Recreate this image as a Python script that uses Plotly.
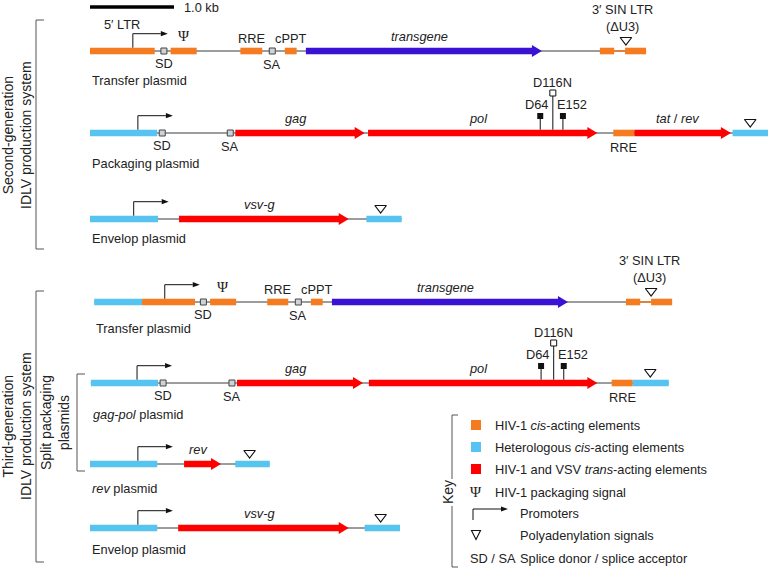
import plotly.graph_objects as go

# ---------------- data (positions in kb along each plasmid) ----------------
SCALE_KB = 1.0

# block tuples: (start_kb, end_kb, label, label_side)
tr2_cis = [(0.00, 0.77, "5′ LTR", "high"), (0.96, 1.27, "Ψ", "psi"), (1.79, 2.05, "RRE", "above"),
           (2.32, 2.46, "cPPT", "above"), (6.07, 6.24, "", ""), (6.37, 6.62, "", "")]
tr2_het = []
tr2_genes = [("transgene", 2.57, 5.38, "transgene")]
tr2_sd, tr2_sa = [0.88], [2.17]
tr2_prom, tr2_polya = [0.51], [6.38]
tr2_mut = []

pk2_cis = [(6.23, 6.48, "RRE", "below")]
pk2_het = [(0.00, 0.80), (7.65, 8.20)]
pk2_genes = [("trans", 1.73, 3.27, "gag"), ("trans", 3.31, 6.04, "pol"), ("trans", 6.48, 7.63, "tat / rev")]
pk2_sd, pk2_sa = [0.86], [1.67]
pk2_prom, pk2_polya = [0.57], [7.86]
pk2_mut = [5.36, 5.51, 5.63]  # D64, D116N, E152

en2_cis = []
en2_het = [(0.00, 0.81), (3.29, 3.71)]
en2_genes = [("trans", 1.06, 3.08, "vsv-g")]
en2_sd, en2_sa = [], []
en2_prom, en2_polya = [0.52], [3.46]
en2_mut = []

tr3_cis = [(0.62, 1.25, "", ""), (1.43, 1.74, "Ψ", "psi"), (2.11, 2.36, "RRE", "above"),
           (2.63, 2.77, "cPPT", "above"), (6.38, 6.55, "", ""), (6.68, 6.93, "", "")]
tr3_het = [(0.05, 0.62)]
tr3_genes = [("transgene", 2.88, 5.69, "transgene")]
tr3_sd, tr3_sa = [1.35], [2.48]
tr3_prom, tr3_polya = [0.89], [6.68]
tr3_mut = []

gp3_cis = [(6.21, 6.46, "RRE", "below")]
gp3_het = [(0.01, 0.81), (6.46, 6.89)]
gp3_genes = [("trans", 1.75, 3.25, "gag"), ("trans", 3.32, 6.04, "pol")]
gp3_sd, gp3_sa = [0.87], [1.69]
gp3_prom, gp3_polya = [0.56], [6.67]
gp3_mut = [5.37, 5.52, 5.64]

rv3_cis = []
rv3_het = [(0.00, 0.80), (1.73, 2.14)]
rv3_genes = [("trans", 1.12, 1.56, "rev")]
rv3_sd, rv3_sa = [], []
rv3_prom, rv3_polya = [0.57], [1.90]
rv3_mut = []

en3_cis = []
en3_het = [(0.00, 0.80), (3.27, 3.69)]
en3_genes = [("trans", 1.05, 3.08, "vsv-g")]
en3_sd, en3_sa = [], []
en3_prom, en3_polya = [0.57], [3.46]
en3_mut = []

plasmid_names = ["Transfer plasmid", "Packaging plasmid", "Envelop plasmid", "Transfer plasmid",
                 "<i>gag-pol</i> plasmid", "<i>rev</i> plasmid", "Envelop plasmid"]
mutation_names = ["D64", "D116N", "E152"]
key_items = ["HIV-1 <i>cis</i>-acting elements", "Heterologous <i>cis</i>-acting elements",
             "HIV-1 and VSV <i>trans</i>-acting elements", "HIV-1 packaging signal",
             "Promoters", "Polyadenylation signals", "Splice donor / splice acceptor"]

# ---------------- layout / style ----------------
ORANGE, CYAN, RED, BLUE, INK = "#F47B20", "#56C3F0", "#FF0000", "#3A12D6", "#222222"
GENE_COLOR = {"trans": RED, "transgene": BLUE}
FONT = "Liberation Sans, Arial, sans-serif"
FS = 12.8
FS_SIDE = 14
PX_PER_KB = 84.0
X0_PX = 90.0
ROW_Y = [51, 133, 219, 302, 383, 464, 528]
NAME_DY = [29, 30, 19, 26, 31, 24, 21]
BAR, HEAD_H, HEAD_L = 3.3, 6.0, 10 / PX_PER_KB

rows = [
    (tr2_cis, tr2_het, tr2_genes, tr2_sd, tr2_sa, tr2_prom, tr2_polya, tr2_mut, True),
    (pk2_cis, pk2_het, pk2_genes, pk2_sd, pk2_sa, pk2_prom, pk2_polya, pk2_mut, False),
    (en2_cis, en2_het, en2_genes, en2_sd, en2_sa, en2_prom, en2_polya, en2_mut, False),
    (tr3_cis, tr3_het, tr3_genes, tr3_sd, tr3_sa, tr3_prom, tr3_polya, tr3_mut, True),
    (gp3_cis, gp3_het, gp3_genes, gp3_sd, gp3_sa, gp3_prom, gp3_polya, gp3_mut, False),
    (rv3_cis, rv3_het, rv3_genes, rv3_sd, rv3_sa, rv3_prom, rv3_polya, rv3_mut, False),
    (en3_cis, en3_het, en3_genes, en3_sd, en3_sa, en3_prom, en3_polya, en3_mut, False),
]

shapes, ann = [], []
fig = go.Figure()


def P(px):
    return px / 768.0


def text(x, y, t, xref="x", size=FS, xanchor="center", angle=0, font=FONT, yanchor="middle"):
    ann.append(dict(x=x, y=y, xref=xref, yref="y", text=t, showarrow=False, textangle=angle,
                    xanchor=xanchor, yanchor=yanchor, font=dict(family=font, size=size, color=INK)))


def line(x0, y0, x1, y1, xref="x", color="#333333", width=1):
    shapes.append(dict(type="line", xref=xref, yref="y", x0=x0, x1=x1, y0=y0, y1=y1,
                       line=dict(color=color, width=width), layer="below"))


def rect(s, e, y, c):
    shapes.append(dict(type="rect", xref="x", yref="y", x0=s, x1=e, y0=y - BAR, y1=y + BAR,
                       fillcolor=c, line_width=0, layer="below"))


def arrow(s, e, y, c):
    h = HEAD_L
    path = (f"M{s},{y-BAR} L{e-h},{y-BAR} L{e-h},{y-HEAD_H} L{e},{y} L{e-h},{y+HEAD_H} "
            f"L{e-h},{y+BAR} L{s},{y+BAR} Z")
    shapes.append(dict(type="path", xref="x", yref="y", path=path, fillcolor=c, line_width=0, layer="below"))


def promoter(x, y, xref="x", unit=1 / PX_PER_KB, rise=14):
    top = y - rise
    L, aw = 35 * unit, 7 * unit
    line(x, y, x, top, xref=xref, color="#111111")
    line(x, top, x + L - aw, top, xref=xref, color="#111111")
    path = f"M{x+L-aw},{top-2.6} L{x+L},{top} L{x+L-aw},{top+2.6} Z"
    shapes.append(dict(type="path", xref=xref, yref="y", path=path, fillcolor="#111111", line_width=0,
                       layer="below"))


sd_x, sd_y, pa_x, pa_y, mf_x, mf_y, mo_x, mo_y = [], [], [], [], [], [], [], []

for i, (cis, het, genes, sd, sa, prom, polya, mut, is_transfer) in enumerate(rows):
    y = ROW_Y[i]
    starts = [b[0] for b in cis] + [b[0] for b in het] + [g[1] for g in genes]
    ends = [b[1] for b in cis] + [b[1] for b in het] + [g[2] for g in genes]
    s0, s1 = min(starts), max(ends)
    line(s0, y, s1, y, color="#3a3a3a", width=1)
    if is_transfer:
        line(cis[-2][1], y, cis[-1][0], y, color=ORANGE, width=1.5)
        mid = (cis[-2][0] + cis[-1][1]) / 2
        text(mid, y - 33, "3′ SIN LTR<br>(ΔU3)")
    for (s, e) in het:
        rect(s, e, y, CYAN)
    for (s, e, lab, side) in cis:
        rect(s, e, y, ORANGE)
        mid = (s + e) / 2
        if side == "above":
            text(mid, y - 13, lab)
        elif side == "below":
            text(mid, y + 14, lab)
        elif side == "high":
            text(mid, y - 27, lab)
        elif side == "psi":
            text(mid, y - 15, lab, size=15, font="Liberation Serif, Times New Roman, serif")
    for (kind, s, e, lab) in genes:
        arrow(s, e, y, GENE_COLOR[kind])
        lab_html = " / ".join(f"<i>{p}</i>" for p in lab.split(" / "))
        text((s + e) / 2 - 0.05, y - 15, lab_html)
    for x in sd:
        sd_x.append(x); sd_y.append(y)
        text(x, y + 12, "SD")
    for x in sa:
        sd_x.append(x); sd_y.append(y)
        text(x, y + 13, "SA")
    for x in prom:
        promoter(x, y - BAR)
    for x in polya:
        pa_x.append(x); pa_y.append(y - 11)
    if mut:
        d64, d116, e152 = mut
        line(d64, y - BAR, d64, y - 16, color="#111111")
        line(e152, y - BAR, e152, y - 16, color="#111111")
        line(d116, y - BAR, d116, y - 40, color="#111111")
        mf_x += [d64, e152]; mf_y += [y - 17, y - 17]
        mo_x.append(d116); mo_y.append(y - 40)
        text(d116, y - 51, mutation_names[1])
        text(d116 - 0.03, y - 29, mutation_names[0], xanchor="right")
        text(d116 + 0.03, y - 29, mutation_names[2], xanchor="left")
    text(s0, y + NAME_DY[i], plasmid_names[i], xanchor="left")

fig.add_trace(go.Scatter(x=sd_x, y=sd_y, mode="markers", hoverinfo="skip",
                         marker=dict(symbol="square", size=6, color="#cfd3d6", line=dict(color="#444", width=1))))
fig.add_trace(go.Scatter(x=pa_x, y=pa_y, mode="markers", hoverinfo="skip",
                         marker=dict(symbol="triangle-down-open", size=10, color="#111", line=dict(width=1.2))))
fig.add_trace(go.Scatter(x=mf_x, y=mf_y, mode="markers", hoverinfo="skip",
                         marker=dict(symbol="square", size=6, color="#111")))
fig.add_trace(go.Scatter(x=mo_x, y=mo_y, mode="markers", hoverinfo="skip",
                         marker=dict(symbol="square", size=6, color="white", line=dict(color="#111", width=1))))

# scale bar
line(0, 7, SCALE_KB, 7, color="#000", width=3.5)
text(SCALE_KB + 0.1, 7, f"{SCALE_KB:.1f} kb", xanchor="left")

# brackets
BR = "#555555"
for (xb, y0, y1, tick) in [(36, 20, 249, 8), (36, 291, 562, 8), (77, 374, 471, 8)]:
    line(P(xb), y0, P(xb), y1, xref="paper", color=BR)
    line(P(xb), y0, P(xb + tick), y0, xref="paper", color=BR)
    line(P(xb), y1, P(xb + tick), y1, xref="paper", color=BR)
text(P(17), 135, "Second-generation<br>IDLV production system", xref="paper", angle=-90, size=FS_SIDE)
text(P(17), 426, "Third-generation<br>IDLV production system", xref="paper", angle=-90, size=FS_SIDE)
text(P(55), 423, "Split packaging<br>plasmids", xref="paper", angle=-90, size=FS_SIDE)

# key
line(P(452), 415, P(452), 479, xref="paper", color=BR)
line(P(452), 506, P(452), 567, xref="paper", color=BR)
line(P(452), 415, P(458), 415, xref="paper", color=BR)
line(P(452), 567, P(458), 567, xref="paper", color=BR)
text(P(448), 492, "Key", xref="paper", angle=-90, size=FS_SIDE)
KEY_Y = [425, 447, 469, 492, 513, 535, 558]
for c, ky in zip([ORANGE, CYAN, RED], KEY_Y[:3]):
    shapes.append(dict(type="rect", xref="paper", yref="y", x0=P(471), x1=P(481), y0=ky - 5, y1=ky + 5,
                       fillcolor=c, line_width=0))
for t, ky in zip(key_items[:4], KEY_Y[:4]):
    text(P(493), ky, t, xref="paper", xanchor="left")
text(P(476), KEY_Y[3], "Ψ", xref="paper", size=15, font="Liberation Serif, Times New Roman, serif")
promoter(P(473), KEY_Y[4] + 7, xref="paper", unit=1 / 768, rise=11)
tri = f"M{P(471.5)},{KEY_Y[5]-4.5} L{P(480.5)},{KEY_Y[5]-4.5} L{P(476)},{KEY_Y[5]+4.5} Z"
shapes.append(dict(type="path", xref="paper", yref="y", path=tri, fillcolor="rgba(0,0,0,0)",
                   line=dict(color="#111", width=1.1)))
for t, ky in zip(key_items[4:], KEY_Y[4:]):
    text(P(518), ky, t, xref="paper", xanchor="left")
text(P(468), KEY_Y[6], "SD / SA", xref="paper", xanchor="left")

fig.update_layout(
    width=768, height=570, margin=dict(l=0, r=0, t=0, b=0),
    paper_bgcolor="white", plot_bgcolor="white", showlegend=False,
    xaxis=dict(range=[-X0_PX / PX_PER_KB, (768 - X0_PX) / PX_PER_KB], visible=False, fixedrange=True),
    yaxis=dict(range=[570, 0], visible=False, fixedrange=True),
    shapes=shapes, annotations=ann,
)
fig.write_html("out.html", config={"displayModeBar": False},
               post_script="document.body.style.margin='0';document.body.style.overflow='hidden';")
